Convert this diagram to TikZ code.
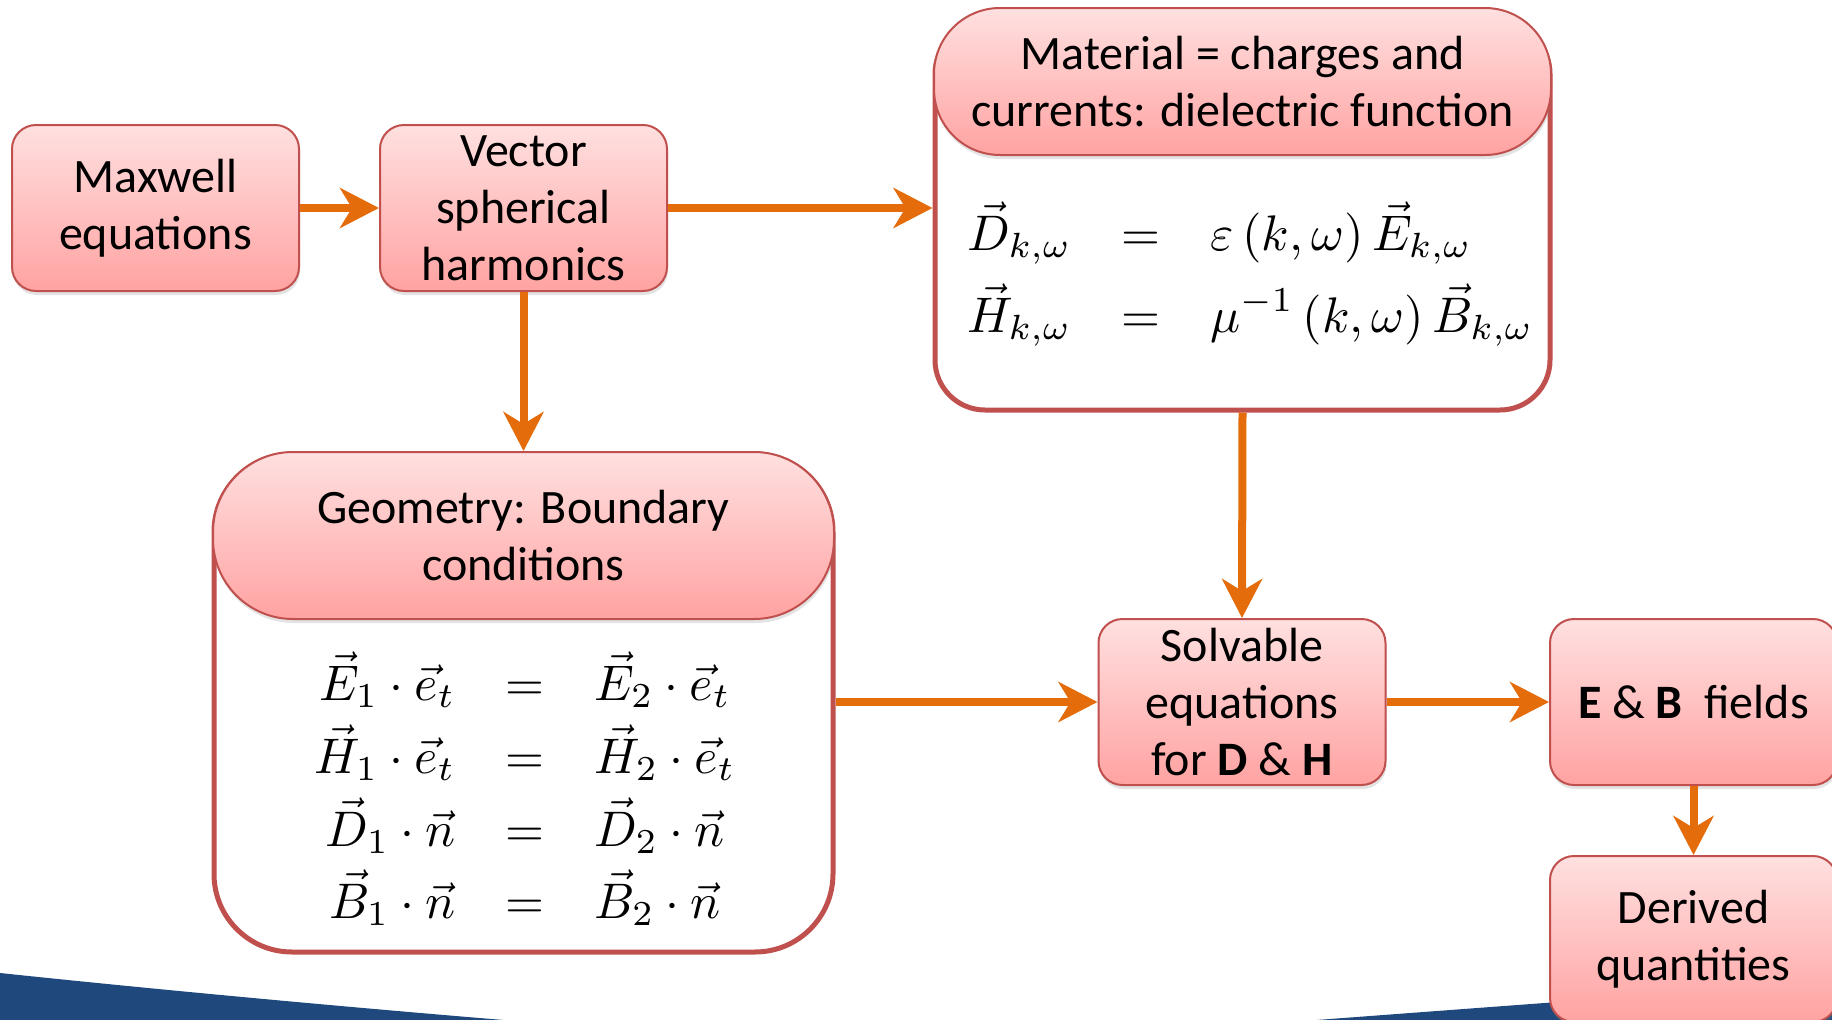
\documentclass[tikz,border=0pt]{standalone}
\usepackage{fontspec}
\setmainfont{Carlito}
\usepackage{graphicx}
\usetikzlibrary{arrows.meta,shadows}
\definecolor{boxborder}{RGB}{192,80,77}
\definecolor{arrowc}{RGB}{228,108,10}
\definecolor{bandblue}{RGB}{31,73,125}
\definecolor{pinkT}{RGB}{255,224,224}
\definecolor{pinkB}{RGB}{255,163,162}
\newcommand\eqrowx[3]{\scalebox{5}{$\makebox[#3][r]{$\displaystyle #1$}\hspace{10pt}{=}\hspace{10pt}\makebox[#3][l]{$\displaystyle #2$}$}}
\begin{document}
\begin{tikzpicture}[x=1pt,y=-1pt,
  pinkbox/.style={draw=boxborder, line width=2pt, rounded corners=24pt,
    top color=pinkT, bottom color=pinkB, align=center, inner sep=0pt,
    font=\fontsize{48}{57}\selectfont,
    drop shadow={opacity=0.22, shadow xshift=1pt, shadow yshift=-4pt}},
  smallbox/.style={pinkbox, minimum width=287pt, minimum height=166pt},
  outerbox/.style={draw=boxborder, line width=5pt, fill=white, inner sep=0pt},
  eqn/.style={anchor=base, inner sep=0pt},
  arr/.style={draw=arrowc, line width=8pt, -{Stealth[length=39pt,width=40pt,inset=12pt]}}
]
\clip (0,0) rectangle (1832,1020);
\fill[white] (0,0) rectangle (1832,1020);
% bottom band
\fill[bandblue] (0,973) .. controls (180,992) and (380,1010) .. (528,1022) -- (0,1022) -- cycle;
\fill[bandblue] (1290,1022) .. controls (1450,1010) and (1650,995) .. (1834,982) -- (1834,1022) -- cycle;

% material (outer frame top corners hidden behind the header)
\node[outerbox, rounded corners=50pt, minimum width=615pt, minimum height=386pt] (mat) at (1242.5,217) {};
\node[pinkbox, rounded corners=66pt, minimum width=617pt, minimum height=147pt] (math) at (1242.5,81.5) {Material = charges and\\currents: dielectric function};
\node[eqn] (m1) at (1141,250) {\eqrowx{\vec{D}_{k,\omega}}{\varepsilon\left(k,\omega\right)\vec{E}_{k,\omega}}{66pt}};
\node[eqn] (m2) at (1141,332) {\eqrowx{\vec{H}_{k,\omega}}{\mu^{-1}\left(k,\omega\right)\vec{B}_{k,\omega}}{66pt}};

% geometry (outer frame top corners hidden behind the header)
\node[outerbox, rounded corners=78pt, minimum width=619pt, minimum height=498pt] (geo) at (523.5,703) {};
\node[pinkbox, rounded corners=80pt, minimum width=621pt, minimum height=167pt] (geoh) at (523.5,535.5) {Geometry: Boundary\\conditions};
\node[eqn] (g1) at (525,700) {\eqrowx{\vec{E}_1\cdot\vec{e}_t}{\vec{E}_2\cdot\vec{e}_t}{27pt}};
\node[eqn] (g2) at (525,773) {\eqrowx{\vec{H}_1\cdot\vec{e}_t}{\vec{H}_2\cdot\vec{e}_t}{27pt}};
\node[eqn] (g3) at (525,846) {\eqrowx{\vec{D}_1\cdot\vec{n}}{\vec{D}_2\cdot\vec{n}}{27pt}};
\node[eqn] (g4) at (525,918) {\eqrowx{\vec{B}_1\cdot\vec{n}}{\vec{B}_2\cdot\vec{n}}{27pt}};

% small boxes
\node[smallbox] (max) at (155.5,208) {Maxwell\\equations};
\node[smallbox] (vec) at (523.5,208) {Vector\\spherical\\harmonics};
\node[smallbox] (sol) at (1242,702) {Solvable\\equations\\for \textbf{D} \& \textbf{H}};
\node[smallbox] (eb) at (1693.5,702) {\textbf{E} \& \textbf{B}\ \ fields};
\node[smallbox] (der) at (1693.5,939) {Derived\\quantities};

% arrows
\draw[arr] (max.east) -- (vec.west);
\draw[arr] (vec.east) -- (vec.east -| mat.west);
\draw[arr] (vec.south) -- (geoh.north);
\draw[arr] (mat.south) -- (sol.north);
\draw[arr] (sol.west -| geo.east) -- (sol.west);
\draw[arr] (sol.east) -- (eb.west);
\draw[arr] (eb.south) -- (der.north);
\end{tikzpicture}
\end{document}
